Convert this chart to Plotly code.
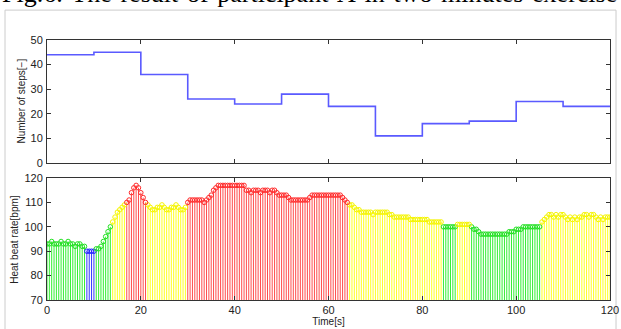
import plotly.graph_objects as go

# ---------------- data ----------------
step_times = [0, 10, 20, 30, 40, 50, 60, 70, 80, 90, 100, 110, 120]
step_counts = [44, 45, 36, 26, 24, 28, 23, 11, 16, 17, 25, 23, 23]

sample_interval = 0.5  # seconds between heart-rate samples
heart_rate = [
    93, 93, 94, 93, 93, 93, 94, 93, 93, 94, 93, 93, 92, 93, 93, 92, 92,
    90, 90, 90, 90,
    91, 91, 92, 94, 96, 98, 100,
    102, 104, 106, 107, 108, 109,
    110, 111, 114, 116, 117, 116, 114, 112, 110,
    109, 108, 107, 107, 108, 108, 109, 108, 107, 107, 108, 108, 109, 108, 107, 107, 108,
    110, 111, 111, 111, 111, 111, 111, 110, 111, 112, 113, 115, 116,
    117, 117, 117, 117, 117, 117, 117, 117, 117, 117, 117, 117,
    115, 115, 114, 115, 115, 115, 114, 115, 115, 115, 114, 115, 115, 114,
    113, 113, 113, 113, 112,
    111, 111, 111, 111, 111, 111, 111, 111, 112,
    113, 113, 113, 113, 113, 113, 113, 113, 113, 113, 113, 113, 113, 112,
    111, 110,
    109, 109, 108, 107, 107, 106,
    106, 106, 106, 106, 105, 106, 106, 106, 106, 106, 106, 105, 105,
    104, 104, 104, 104, 104, 104, 104,
    103, 103, 103, 103, 103, 103, 103, 103,
    102, 102, 102, 102, 102, 102,
    100, 100, 100, 100, 100, 100,
    101, 101, 101, 101, 101, 101,
    100, 99, 99, 98,
    97, 97, 97, 97, 97, 97, 97, 97, 97, 97, 97, 97,
    98, 98, 98, 99, 99, 99,
    100, 100, 100, 100, 100, 100, 100, 100,
    102, 103, 104,
    105, 105, 104, 105, 104, 105, 105,
    104, 103, 104, 103, 104, 103, 104, 104,
    105, 105, 104, 105, 105,
    104, 103, 104, 103, 104, 104, 104,
]
hr_times = [i * sample_interval for i in range(len(heart_rate))]

zone_names = ["blue", "green", "yellow", "red"]
stem_colors = {"blue": "#3333ff", "green": "#33ee33", "yellow": "#ffff22", "red": "#ff4d4d"}
marker_colors = {"blue": "#2222ff", "green": "#22e022", "yellow": "#f5f500", "red": "#ff2a2a"}

caption_words = ["Fig.6.", "The", "result", "of", "participant", "A", "in", "two-minutes", "exercise"]
steps_title = "Number of steps[\u2212]"
hr_title = "Heat beat rate[bpm]"
time_title = "Time[s]"


def zone(v):
    if v <= 90:
        return "blue"
    if v <= 100:
        return "green"
    if v < 110:
        return "yellow"
    return "red"


x_ticks = [0, 20, 40, 60, 80, 100, 120]

# ---------------- figure ----------------
fig = go.Figure()

fig.add_trace(go.Scatter(
    x=step_times, y=step_counts, mode="lines", line_shape="hv",
    line=dict(color="#5a5aff", width=1.6), xaxis="x", yaxis="y", showlegend=False,
))

BASE = 70
for z in zone_names:
    xs, ys = [], []
    for t, v in zip(hr_times, heart_rate):
        if zone(v) == z:
            xs += [t, t, None]
            ys += [BASE, v, None]
    fig.add_trace(go.Scatter(x=xs, y=ys, mode="lines",
                             line=dict(color=stem_colors[z], width=1),
                             xaxis="x2", yaxis="y2", showlegend=False))
for z in zone_names:
    mx = [t for t, v in zip(hr_times, heart_rate) if zone(v) == z]
    my = [v for v in heart_rate if zone(v) == z]
    fig.add_trace(go.Scatter(x=mx, y=my, mode="markers",
                             marker=dict(symbol="circle-open", size=4.5,
                                         color=marker_colors[z], line=dict(width=1)),
                             xaxis="x2", yaxis="y2", showlegend=False))

FONT = "Liberation Sans, Arial"
axis_common = dict(showgrid=False, zeroline=False, showline=True, linecolor="#333",
                   linewidth=1, mirror="allticks", ticks="inside", ticklen=4,
                   tickcolor="#333", automargin=False,
                   tickfont=dict(family=FONT, size=11, color="#222"))

fig.update_layout(
    width=621, height=329,
    margin=dict(l=47, r=11, t=40, b=29),
    paper_bgcolor="white", plot_bgcolor="white",
    xaxis=dict(domain=[0, 1], range=[0, 120], tickvals=x_ticks, showticklabels=False,
               anchor="y", **axis_common),
    yaxis=dict(domain=[0.527, 1], range=[0, 50], tickvals=[0, 10, 20, 30, 40, 50],
               anchor="x", ticklabelstandoff=1, **axis_common),
    xaxis2=dict(domain=[0, 1], range=[0, 120], tickvals=x_ticks, anchor="y2",
                ticklabelstandoff=0,
                title=dict(text=time_title, standoff=0,
                           font=dict(family=FONT, size=10, color="#222")),
                **axis_common),
    yaxis2=dict(domain=[0, 0.469], range=[70, 120], tickvals=[70, 80, 90, 100, 110, 120],
                anchor="x2", ticklabelstandoff=1, **axis_common),
)

# y-axis titles placed next to the tick labels
fig.add_annotation(text=steps_title, xref="paper", yref="paper", x=-0.046, y=0.7635,
                   xanchor="center", yanchor="middle", textangle=-90, showarrow=False,
                   font=dict(family=FONT, size=10, color="#222"))
fig.add_annotation(text=hr_title, xref="paper", yref="paper", x=-0.059, y=0.2345,
                   xanchor="center", yanchor="middle", textangle=-90, showarrow=False,
                   font=dict(family=FONT, size=10, color="#222"))

# figure frame (screenshot border)
fig.add_shape(type="rect", xref="paper", yref="paper", x0=-0.0746, x1=1.0107,
              y0=-0.2, y1=1.115, line=dict(color="#cccccc", width=1), layer="below")

# justified caption: slightly widened word gaps
fig.add_annotation(text="\u00a0\u200a".join(caption_words),
                   xref="paper", yref="paper", x=-0.0835, y=1.18, xanchor="left",
                   yanchor="middle", showarrow=False,
                   font=dict(family="Liberation Serif, Times New Roman", size=26, color="black"))

fig.write_html("out.html", config={"displayModeBar": False},
               post_script="document.body.style.margin='0px';document.body.style.overflow='hidden';")
